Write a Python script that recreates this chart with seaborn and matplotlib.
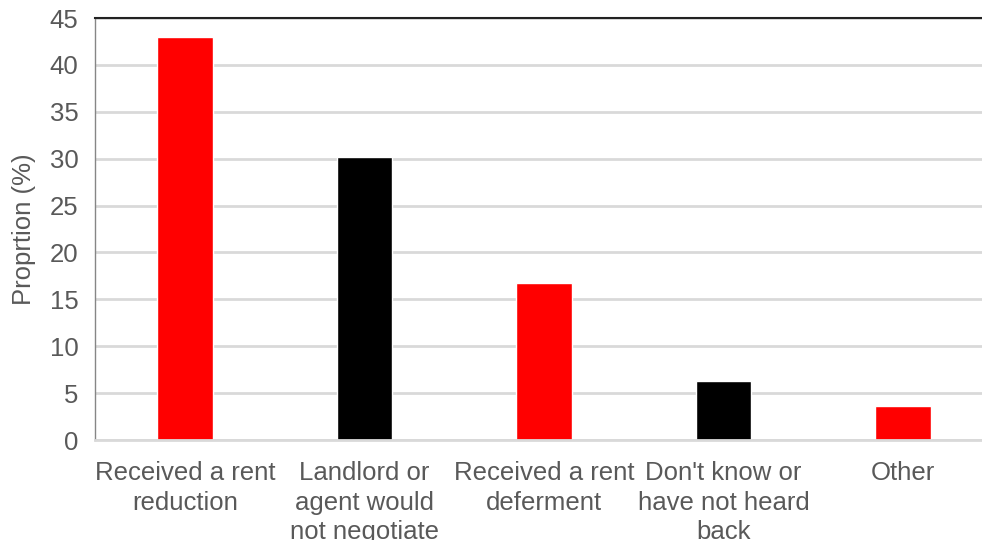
import matplotlib
matplotlib.use("Agg")
import matplotlib.pyplot as plt
import seaborn as sns
import pandas as pd

categories = ["Received a rent\nreduction", "Landlord or\nagent would\nnot negotiate",
              "Received a rent\ndeferment", "Don't know or\nhave not heard\nback", "Other"]
values = [43.0, 30.2, 16.7, 6.3, 3.6]
colors = ["#FF0000", "#000000", "#FF0000", "#000000", "#FF0000"]
yticks = [0, 5, 10, 15, 20, 25, 30, 35, 40, 45]

sns.set_theme(style="white")
plt.rcParams['font.family'] = ['Liberation Sans', 'DejaVu Sans']

df = pd.DataFrame({"cat": categories, "val": values})

fig = plt.figure(figsize=(9.82, 5.4), dpi=100)
ax = fig.add_axes([95/982, 100/540, 898/982, 422/540])
sns.barplot(data=df, x="cat", y="val", hue="cat", palette=colors, dodge=False,
            width=0.31, legend=False, ax=ax, saturation=1)

ax.set_xlim(-0.5, 4.5)
ax.set_ylim(0, 45)
ax.set_yticks(yticks)
ax.set_yticklabels([str(t) for t in yticks])
ax.yaxis.grid(True, color="#D9D9D9", linewidth=2)
ax.set_axisbelow(True)
ax.set_xlabel("")
ax.set_ylabel("Proprtion (%)", fontsize=18.5, color="#595959", labelpad=10)
ax.tick_params(axis="both", labelsize=18.5, labelcolor="#595959", length=0)
ax.tick_params(axis="x", pad=15)
ax.tick_params(axis="y", pad=12)
for lbl in ax.get_xticklabels():
    lbl.set_linespacing(1.3)

ax.spines["right"].set_visible(False)
ax.spines["top"].set_color("#222222")
ax.spines["top"].set_linewidth(1.5)
ax.spines["left"].set_color("#868686")
ax.spines["left"].set_linewidth(1)
ax.spines["bottom"].set_color("#D9D9D9")
ax.spines["bottom"].set_linewidth(2)

fig.savefig("out.png", dpi=100)
